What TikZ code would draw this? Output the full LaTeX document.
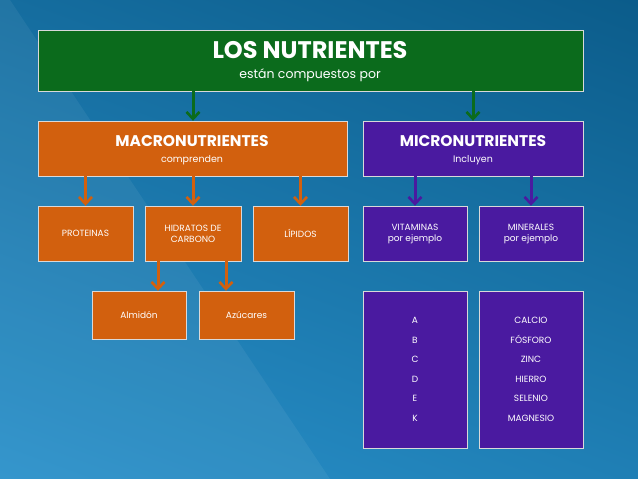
\documentclass[tikz,border=0pt]{standalone}
\usepackage{fontspec}
\setmainfont{Poppins}
\usetikzlibrary{arrows.meta}
\definecolor{bgA}{HTML}{0A5A88}
\definecolor{bgB}{HTML}{2A92CC}
\definecolor{gr}{HTML}{0B6B1C}
\definecolor{orn}{HTML}{D2600E}
\definecolor{pur}{HTML}{4A1AA0}
\tikzset{
  box/.style={draw=white!70!gray, line width=0.4pt, inner sep=0pt, text=white, align=center},
  conn/.style={line width=3pt, -{Straight Barb[length=7pt,width=13pt,line width=2.6pt]}},
}
\begin{document}
\begin{tikzpicture}[x=1pt,y=-1pt]
\useasboundingbox (0,0) rectangle (638,479);
\shade[top color=bgA, bottom color=bgB,shading angle=-20] (-100,-100) rectangle (738,579);
\fill[white,opacity=0.06] (0,0) -- (0,479) -- (330,479) -- (10,0) -- cycle;
\newcommand{\bx}[6]{\node[box,fill=#5,minimum width=#3-#1,minimum height=#4-#2] (#6) at ({(#1+#3)/2},{(#2+#4)/2}) {};}
\bx{38}{30}{583}{91}{gr}{top}
\bx{38}{121}{347}{176}{orn}{macro}
\bx{363}{121}{583}{176}{pur}{micro}
\bx{38}{206}{133}{261}{orn}{prot}
\bx{145}{206}{241}{261}{orn}{hid}
\bx{253}{206}{348}{261}{orn}{lip}
\bx{363}{206}{467}{261}{pur}{vit}
\bx{479}{206}{583}{261}{pur}{min}
\bx{92}{291}{186}{339}{orn}{alm}
\bx{199}{291}{294}{339}{orn}{azu}
\bx{363}{291}{467}{448}{pur}{vlist}
\bx{479}{291}{583}{448}{pur}{mlist}
\node[text=white,font=\fontsize{24}{26}\selectfont\bfseries] at (310,50) {LOS NUTRIENTES};
\node[text=white,font=\fontsize{12.5}{14}\selectfont] at (310,75) {están compuestos por};
\node[text=white,font=\fontsize{15.5}{17}\selectfont\bfseries] at (192,141) {MACRONUTRIENTES};
\node[text=white,font=\fontsize{9.5}{11}\selectfont] at (192,160) {comprenden};
\node[text=white,font=\fontsize{15.5}{17}\selectfont\bfseries] at (473,141) {MICRONUTRIENTES};
\node[text=white,font=\fontsize{9.5}{11}\selectfont] at (473,160) {Incluyen};
\tikzset{sm/.style={text=white,align=center,font=\fontsize{9}{11}\selectfont}}
\node[sm] at (prot) {PROTEINAS};
\node[sm] at (hid) {HIDRATOS DE\\CARBONO};
\node[sm] at (lip) {LÍPIDOS};
\node[sm] at (vit) {VITAMINAS\\por ejemplo};
\node[sm] at (min) {MINERALES\\por ejemplo};
\node[sm] at (alm) {Almidón};
\node[sm] at (azu) {Azúcares};
\node[sm,font=\fontsize{9}{19.5}\selectfont] at (vlist) {A\\B\\C\\D\\E\\K};
\node[sm,font=\fontsize{9}{19.5}\selectfont] at (mlist) {CALCIO\\FÓSFORO\\ZINC\\HIERRO\\SELENIO\\MAGNESIO};
\coordinate (g1) at (193,91); \coordinate (g2) at (473,91);
\draw[conn,gr] (g1) -- (g1 |- macro.north);
\draw[conn,gr] (g2) -- (g2 |- micro.north);
\draw[conn,orn] (prot.north |- macro.south) -- (prot.north);
\draw[conn,orn] (hid.north |- macro.south) -- (hid.north);
\draw[conn,orn] (lip.north |- macro.south) -- (lip.north);
\draw[conn,pur] (vit.north |- micro.south) -- (vit.north);
\draw[conn,pur] (min.north |- micro.south) -- (min.north);
\coordinate (h1) at (158,261); \coordinate (h2) at (226,261);
\draw[conn,orn] (h1) -- (h1 |- alm.north);
\draw[conn,orn] (h2) -- (h2 |- azu.north);
\end{tikzpicture}
\end{document}
